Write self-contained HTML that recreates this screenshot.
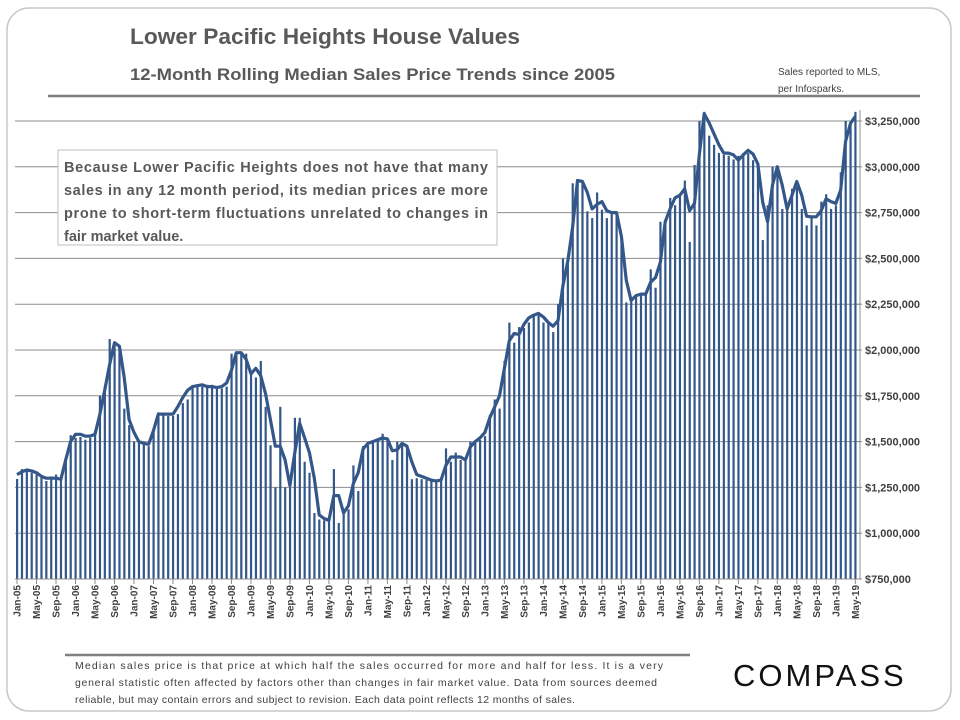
<!DOCTYPE html>
<html><head><meta charset="utf-8"><style>
body{margin:0;background:#fff;}
svg{display:block;font-family:"Liberation Sans",sans-serif;}
</style></head><body>
<svg id="chart" width="960" height="720" viewBox="0 0 960 720">
<rect x="7" y="8" width="944" height="703" rx="22" fill="#fff" stroke="#c8c8c8" stroke-width="1.5"/>
<text x="130" y="44" font-size="22" font-weight="bold" fill="#595959" textLength="390" lengthAdjust="spacingAndGlyphs">Lower Pacific Heights House Values</text>
<text x="130" y="80" font-size="17" font-weight="bold" fill="#595959" textLength="485" lengthAdjust="spacingAndGlyphs">12-Month Rolling Median Sales Price Trends since 2005</text>
<text x="778" y="75" font-size="10" fill="#404040">Sales reported to MLS,</text>
<text x="778" y="92" font-size="10" fill="#404040">per Infosparks.</text>
<line x1="48" y1="96" x2="920" y2="96" stroke="#7f7f7f" stroke-width="2.5"/>
<g id="grid"></g>
<g id="bars"></g>
<path id="trend" fill="none" stroke="#34578a" stroke-width="3.2" stroke-linejoin="round"/>
<g id="yaxis"></g>
<g id="xaxis"></g>
<rect x="58" y="150" width="439" height="95" fill="#fff" stroke="#bfbfbf"/>
<g font-size="14.5" font-weight="bold" fill="#595959">
<text x="64" y="172" textLength="424" lengthAdjust="spacing">Because Lower Pacific Heights does not have that many</text>
<text x="64" y="195" textLength="424" lengthAdjust="spacing">sales in any 12 month period, its median prices are more</text>
<text x="64" y="218" textLength="424" lengthAdjust="spacing">prone to short-term fluctuations unrelated to changes in</text>
<text x="64" y="241">fair market value.</text>
</g>
<line x1="65" y1="655" x2="690" y2="655" stroke="#7f7f7f" stroke-width="2.5"/>
<g font-size="10.5" fill="#404040">
<text x="75" y="669" textLength="588" lengthAdjust="spacing">Median sales price is that price at which half the sales occurred for more and half for less. It is a very</text>
<text x="75" y="686" textLength="582" lengthAdjust="spacing">general statistic often affected by factors other than changes in fair market value. Data from sources deemed</text>
<text x="75" y="703" textLength="500" lengthAdjust="spacing">reliable, but may contain errors and subject to revision. Each data point reflects 12 months of sales.</text>
</g>
<text x="733" y="686" font-size="31" fill="#111" letter-spacing="3">COMPASS</text>
</svg>
<script>
const barValues = [
1296,1350,1340,1330,1320,1310,1285,1310,1320,1300,1410,1535,
1520,1525,1510,1520,1560,1750,1800,2060,2030,2000,1680,1590,
1500,1510,1500,1475,1570,1660,1650,1640,1640,1650,1710,1730,
1800,1810,1800,1810,1810,1800,1790,1800,1980,1980,1980,1980,
1875,1850,1940,1690,1480,1250,1690,1250,1250,1630,1630,1390,
1330,1110,1075,1070,1070,1350,1056,1110,1130,1370,1230,1476,
1480,1500,1510,1543,1520,1400,1500,1490,1470,1295,1300,1295,
1290,1285,1280,1300,1463,1390,1440,1400,1395,1500,1500,1510,
1530,1645,1730,1680,1940,2150,2040,2125,2120,2150,2190,2190,
2150,2150,2098,2250,2500,2480,2910,2920,2910,2757,2720,2860,
2766,2720,2750,2740,2600,2260,2290,2300,2300,2300,2440,2340,
2700,2690,2830,2790,2840,2925,2590,3010,3250,3300,3170,3120,
3075,3065,3060,3040,3060,3075,3075,3036,3020,2600,2790,3000,
2990,2770,2780,2880,2890,2770,2680,2730,2680,2810,2850,2770,
2790,2970,3250,3245,3300];
const lineValues = [
1320,1335,1345,1340,1330,1310,1300,1300,1300,1295,1400,1500,
1540,1540,1530,1530,1540,1650,1780,1920,2040,2020,1850,1620,
1550,1500,1490,1485,1560,1650,1650,1650,1650,1690,1740,1780,
1800,1805,1810,1800,1800,1795,1800,1820,1890,1985,1985,1950,
1870,1900,1860,1760,1620,1475,1475,1400,1260,1440,1600,1520,
1440,1300,1100,1080,1070,1205,1205,1110,1150,1270,1330,1460,
1490,1500,1510,1520,1515,1450,1455,1490,1475,1390,1320,1310,
1300,1290,1285,1290,1370,1416,1416,1416,1400,1470,1500,1520,
1550,1630,1690,1750,1900,2050,2090,2085,2140,2175,2190,2200,
2180,2150,2130,2160,2350,2485,2670,2925,2920,2860,2770,2795,
2810,2760,2750,2750,2620,2380,2270,2297,2305,2305,2370,2395,
2480,2700,2770,2830,2845,2880,2760,2800,3070,3290,3240,3180,
3120,3075,3075,3065,3036,3065,3090,3070,3017,2807,2700,2900,
3000,2900,2770,2845,2920,2845,2730,2727,2727,2760,2826,2810,
2800,2874,3140,3237,3275];
const yTicks = [750000,1000000,1250000,1500000,1750000,2000000,2250000,2500000,2750000,3000000,3250000];
const monthNames = ["Jan","Feb","Mar","Apr","May","Jun","Jul","Aug","Sep","Oct","Nov","Dec"];
const startYear = 2005;

const NS = "http://www.w3.org/2000/svg";
const x0 = 17, xStep = 4.874;
const yMin = 750, yMax = 3250, yBot = 579, yTop = 121;
function xPos(i){ return x0 + i * xStep; }
function yPos(v){ return yBot - (v - yMin) / (yMax - yMin) * (yBot - yTop); }
function mk(tag, attrs, parent){ const e = document.createElementNS(NS, tag); for (const k in attrs) e.setAttribute(k, attrs[k]); parent.appendChild(e); return e; }

const grid = document.getElementById('grid');
const yaxis = document.getElementById('yaxis');
yTicks.forEach(t => {
  const y = yPos(t / 1000);
  const gl = mk('line', {x1: 15, x2: 860, y1: y, y2: y, stroke: '#8c8c8c', 'stroke-width': 1}, grid);
  
  
  const tk = mk('line', {x1: 857, x2: 862, y1: y, y2: y, stroke: '#8c8c8c'}, yaxis);
  
  
  const lb = mk('text', {x: 865, y: y + 4, 'font-size': 11, 'font-weight': 'bold', fill: '#404040'}, yaxis);
  lb.textContent = '$' + t.toLocaleString('en-US');
  
  
});
const yl = mk('line', {x1: 860, x2: 860, y1: 110, y2: yBot, stroke: '#8c8c8c'}, yaxis);



const bars = document.getElementById('bars');
barValues.forEach((v, i) => {
  const y = yPos(v);
  const r = mk('rect', {x: xPos(i) - 1, y: y, width: 2.2, height: yBot - y, fill: '#34578a'}, bars);
  
  
});

document.getElementById('trend').setAttribute('d', lineValues.map((v, i) => (i ? 'L' : 'M') + xPos(i).toFixed(1) + ' ' + yPos(v).toFixed(1)).join(' '));

const xaxis = document.getElementById('xaxis');
const xl = mk('line', {x1: 15, x2: 860, y1: yBot, y2: yBot, stroke: '#8c8c8c'}, xaxis);


for (let i = 0; i < barValues.length; i += 4) {
  const x = xPos(i);
  const tk = mk('line', {x1: x, x2: x, y1: yBot, y2: yBot + 5, stroke: '#8c8c8c'}, xaxis);
  
  
  const yr = String((startYear + Math.floor(i / 12)) % 100).padStart(2, '0');
  const lb = mk('text', {x: 0, y: 0, 'font-size': 10, 'font-weight': 'bold', fill: '#404040', 'text-anchor': 'end', transform: 'translate(' + (x + 3.5) + ',585) rotate(-90)'}, xaxis);
  lb.textContent = monthNames[i % 12] + '-' + yr;
  
  
}
</script>
</body></html>
